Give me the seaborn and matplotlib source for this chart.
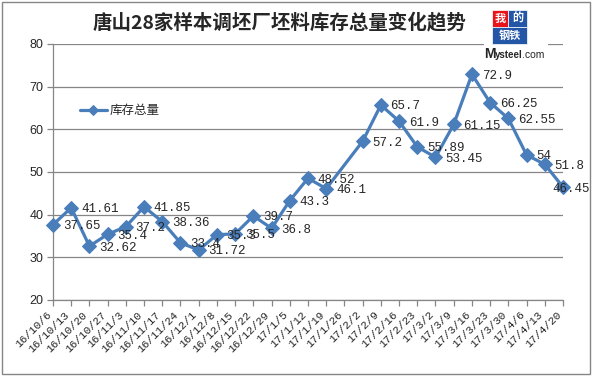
import matplotlib.pyplot as plt
import numpy as np
import pandas as pd
import seaborn as sns
from matplotlib.patches import Rectangle

title = '唐山28家样本调坯厂坯料库存总量变化趋势'
series_name = '库存总量'
dates = ['16/10/6', '16/10/13', '16/10/20', '16/10/27', '16/11/3', '16/11/10',
         '16/11/17', '16/11/24', '16/12/1', '16/12/8', '16/12/15', '16/12/22',
         '16/12/29', '17/1/5', '17/1/12', '17/1/19', '17/1/26', '17/2/2',
         '17/2/9', '17/2/16', '17/2/23', '17/3/2', '17/3/9', '17/3/16',
         '17/3/23', '17/3/30', '17/4/6', '17/4/13', '17/4/20']
stock = [37.65, 41.61, 32.62, 35.4, 37.2, 41.85, 38.36, 33.4, 31.72, 35.3,
         35.5, 39.7, 36.8, 43.3, 48.52, 46.1, np.nan, 57.2, 65.7, 61.9, 55.89,
         53.45, 61.15, 72.9, 66.25, 62.55, 54, 51.8, 46.45]

W, H = 592, 376


def fx(px):
    return px / W


def fy(py):
    return 1 - py / H


df = pd.DataFrame({'pos': range(len(dates)), 'date': dates, 'stock': stock})
df = df.dropna()

sns.set_style('white')
plt.rcParams['font.family'] = ['Liberation Sans', 'Noto Sans CJK SC', 'DejaVu Sans']

blue = '#4A7EBB'
gray = '#868686'

fig = plt.figure(figsize=(W / 100, H / 100), dpi=100)
ax = fig.add_axes([fx(53), fy(300), fx(563) - fx(53), fy(44) - fy(300)])

sns.lineplot(data=df, x='pos', y='stock', ax=ax, color=blue, linewidth=2.3,
             marker='D', markersize=7, markeredgecolor=blue,
             label=series_name, clip_on=False, zorder=3)

# data labels to the right of each point (last one pulled inside, like Excel)
last = df['pos'].max()
for p, v in zip(df['pos'], df['stock']):
    dx = -8 if p == last else 7
    ax.annotate(f'{v:g}', (p, v), xytext=(dx, -1), textcoords='offset points',
                ha='left', va='center', fontsize=9, family='Liberation Mono',
                annotation_clip=False, zorder=4)

# axes
ax.set_xlim(0, len(dates) - 1)
ax.set_ylim(20, 80)
ax.set_yticks(np.arange(20, 81, 10))
ax.set_xticks(range(len(dates)))
ax.set_xticklabels(dates, rotation=45, ha='right', fontsize=8,
                   family='Liberation Mono')
ax.tick_params(axis='y', labelsize=9)
ax.tick_params(axis='both', direction='out', length=4, width=0.9,
               color=gray, left=True, bottom=True, pad=3)
ax.set_xlabel('')
ax.set_ylabel('')
ax.grid(axis='y', color=gray, linewidth=0.9)
ax.set_axisbelow(True)
for s in ['left', 'bottom']:
    ax.spines[s].set_color(gray)
    ax.spines[s].set_linewidth(0.9)
for s in ['top', 'right']:
    ax.spines[s].set_visible(False)

ax.legend(loc='center left', bbox_to_anchor=(0.052, 0.738), frameon=False,
          fontsize=9, handlelength=2.2, handletextpad=0.2, markerscale=0.7,
          borderaxespad=0, borderpad=0)

fig.text(fx(279), fy(22), title, ha='center', va='center', fontsize=14,
         weight='bold', family=['Noto Sans CJK SC', 'DejaVu Sans'])

# logo
fig.add_artist(Rectangle((fx(484), fy(62)), fx(548) - fx(484), fy(6) - fy(62),
                         transform=fig.transFigure, facecolor='white',
                         edgecolor='none', zorder=5))
for x0, x1, y0, y1, c, t in [(492, 508, 10, 27, '#E8141B', '我'),
                             (508, 527, 10, 27, '#2356A6', '的'),
                             (492, 527, 27, 44, '#2356A6', '钢铁')]:
    fig.add_artist(Rectangle((fx(x0), fy(y1)), fx(x1) - fx(x0), fy(y0) - fy(y1),
                             transform=fig.transFigure, facecolor=c,
                             edgecolor='white', lw=0.5, zorder=6))
    fig.text(fx((x0 + x1) / 2), fy((y0 + y1) / 2), t, ha='center', va='center',
             color='white', fontsize=8, weight='bold', zorder=7,
             family=['Noto Sans CJK SC'])
fig.text(fx(484), fy(54), 'M', ha='left', va='center', fontsize=10,
         weight='bold', zorder=7)
fig.text(fx(494.5), fy(55), 'ysteel', ha='left', va='center', fontsize=7,
         weight='bold', zorder=7)
fig.text(fx(522), fy(55), '.com', ha='left', va='center', fontsize=7.5,
         zorder=7)

# outer border
fig.add_artist(Rectangle((fx(1.5), fy(373.5)), fx(590) - fx(1.5),
                         fy(1.5) - fy(373.5), transform=fig.transFigure,
                         fill=False, edgecolor=gray, lw=1, zorder=8))

fig.savefig('out.png', dpi=100)
plt.close()
